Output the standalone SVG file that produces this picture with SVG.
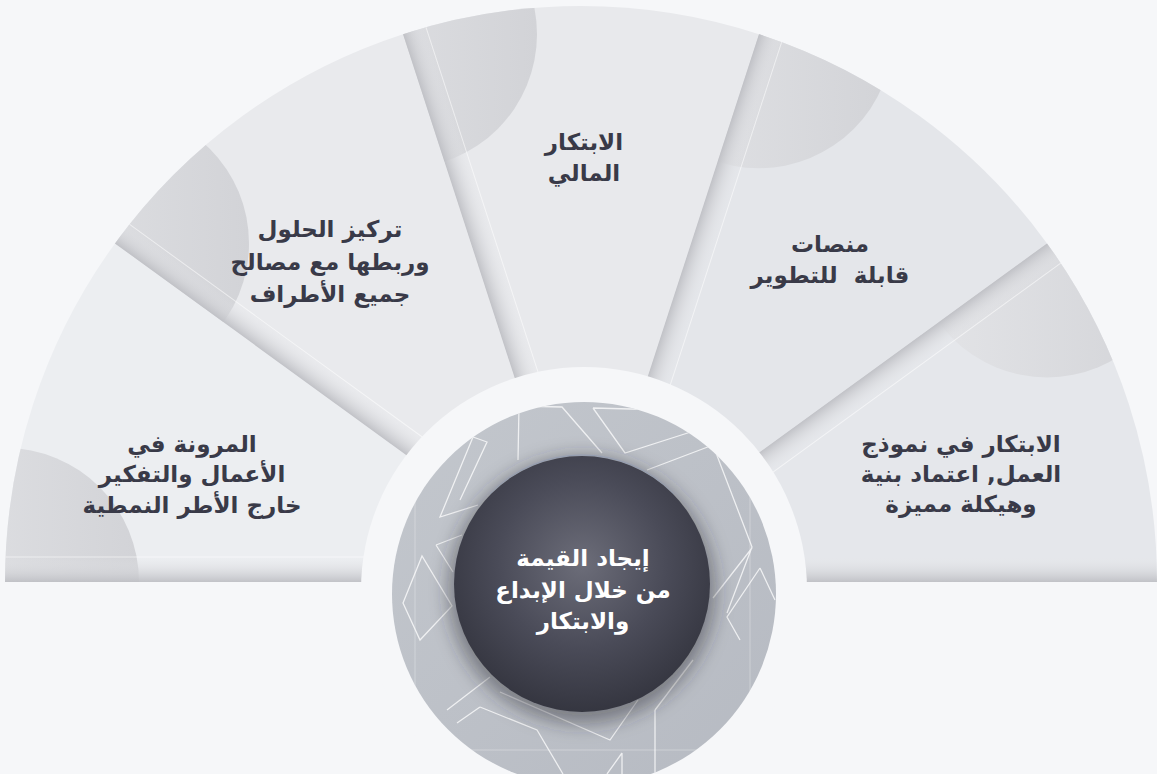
<svg xmlns="http://www.w3.org/2000/svg" width="1157" height="774" viewBox="0 0 1157 774">
<style>
.lbl{font-family:"DejaVu Sans","Noto Sans",sans-serif;font-weight:bold;font-size:23px;fill:#393a48;text-anchor:middle;white-space:pre}
.ctr{font-family:"DejaVu Sans","Noto Sans",sans-serif;font-weight:bold;font-size:23px;fill:#ffffff;text-anchor:middle}
.pat{fill:none;stroke:#ffffff;stroke-width:1.3;stroke-opacity:0.75;stroke-linejoin:miter}
.patf{fill:none;stroke:#ffffff;stroke-width:1;stroke-opacity:0.3}
.edge{stroke:#ffffff;stroke-opacity:0.55;stroke-width:1}
</style>
<defs>
<clipPath id="fanClip"><path d="M5 582 A576 576 0 0 1 1157 582 Z"/></clipPath>
<clipPath id="c1"><path d="M581 582 L5 582 A576 576 0 0 1 115 243.4 Z"/></clipPath>
<clipPath id="c2"><path d="M581 582 L115 243.4 A576 576 0 0 1 403 34.2 Z"/></clipPath>
<clipPath id="c3"><path d="M581 582 L403 34.2 A576 576 0 0 1 759 34.2 Z"/></clipPath>
<clipPath id="c4"><path d="M581 582 L759 34.2 A576 576 0 0 1 1047 243.4 Z"/></clipPath>
<clipPath id="c5"><path d="M581 582 L1047 243.4 A576 576 0 0 1 1157 582 Z"/></clipPath>
<clipPath id="discClip"><circle cx="584" cy="594" r="192"/></clipPath>
<linearGradient id="cornerG" x1="0" y1="0" x2="1" y2="0">
<stop offset="0" stop-color="#e4e5e8"/>
<stop offset="1" stop-color="#d2d3d7"/>
</linearGradient>
<linearGradient id="stripG" x1="0" y1="0" x2="0" y2="1">
<stop offset="0" stop-color="#bfc0c5" stop-opacity="0.95"/>
<stop offset="0.35" stop-color="#d0d1d5" stop-opacity="0.7"/>
<stop offset="1" stop-color="#e6e7ea" stop-opacity="0"/>
</linearGradient>
<linearGradient id="bandG" x1="0" y1="0" x2="0" y2="1">
<stop offset="0" stop-color="#e6e7ea" stop-opacity="0"/>
<stop offset="0.65" stop-color="#d0d1d5" stop-opacity="0.7"/>
<stop offset="1" stop-color="#bfc0c5" stop-opacity="0.95"/>
</linearGradient>
<linearGradient id="discG" x1="0" y1="0" x2="1" y2="1">
<stop offset="0" stop-color="#c3c7cd"/>
<stop offset="1" stop-color="#b6bac2"/>
</linearGradient>
<radialGradient id="darkG" cx="0.5" cy="0.42" r="0.6">
<stop offset="0" stop-color="#6c6d79"/>
<stop offset="0.55" stop-color="#4a4b58"/>
<stop offset="1" stop-color="#33343e"/>
</radialGradient>
<filter id="shadow" x="-30%" y="-30%" width="160%" height="160%">
<feGaussianBlur stdDeviation="9"/>
</filter>
</defs>
<rect width="1157" height="774" fill="#f6f7f9"/>

<g id="fan">
<g id="seg1">
<path d="M581 582 L5 582 A576 576 0 0 1 115 243.4 Z" fill="#eceef1"/>
<circle cx="5" cy="582" r="134" fill="url(#cornerG)" clip-path="url(#c1)"/>
</g>
<g id="seg2">
<path d="M581 582 L115 243.4 A576 576 0 0 1 403 34.2 Z" fill="#e9eaed"/>
<circle cx="115" cy="243.4" r="134" fill="url(#cornerG)" clip-path="url(#c2)"/>
</g>
<g id="seg3">
<path d="M581 582 L403 34.2 A576 576 0 0 1 759 34.2 Z" fill="#e8e9ec"/>
<circle cx="403" cy="34.2" r="134" fill="url(#cornerG)" clip-path="url(#c3)"/>
</g>
<g id="seg4">
<path d="M581 582 L759 34.2 A576 576 0 0 1 1047 243.4 Z" fill="#e4e6ea"/>
<circle cx="759" cy="34.2" r="134" fill="url(#cornerG)" clip-path="url(#c4)"/>
</g>
<g id="seg5">
<path d="M581 582 L1047 243.4 A576 576 0 0 1 1157 582 Z" fill="#e5e7eb"/>
<circle cx="1047" cy="243.4" r="134" fill="url(#cornerG)" clip-path="url(#c5)"/>
</g>
<g id="strips" clip-path="url(#fanClip)">
<g transform="translate(581 582) rotate(-180)"><rect x="200" y="0" width="400" height="25" fill="url(#stripG)"/><line x1="200" y1="25" x2="600" y2="25" class="edge"/></g>
<g transform="translate(581 582) rotate(-144)"><rect x="200" y="0" width="400" height="24" fill="url(#stripG)"/><line x1="200" y1="24" x2="600" y2="24" class="edge"/></g>
<g transform="translate(581 582) rotate(-108)"><rect x="200" y="0" width="400" height="24" fill="url(#stripG)"/><line x1="200" y1="24" x2="600" y2="24" class="edge"/></g>
<g transform="translate(581 582) rotate(-72)"><rect x="200" y="0" width="400" height="24" fill="url(#stripG)"/><line x1="200" y1="24" x2="600" y2="24" class="edge"/></g>
<g transform="translate(581 582) rotate(-36)"><rect x="200" y="0" width="400" height="24" fill="url(#stripG)"/><line x1="200" y1="24" x2="600" y2="24" class="edge"/></g>
<rect x="780" y="557" width="380" height="25" fill="url(#bandG)"/>
</g>
</g>

<g id="hub">
<circle cx="584" cy="590" r="223" fill="#f6f7f9"/>
<circle cx="584" cy="594" r="192" fill="url(#discG)"/>
<g clip-path="url(#discClip)">
<path class="patf" d="M392 750 H776 M415 400 V774 M750 400 V774"/>
<path class="pat" d="M519 406 L562 407 L602 453 M519 406 L518 460 M593 408 L625 453 L697 430 M593 408 L668 410 M647 470 L713 445 L752 547 L727 613 M473 437 L487 442 L460 500 M473 437 L440 517 L478 505 M422 556 L403 603 L420 640 L452 606 Z M436 545 L462 535 M436 545 L453 572 M752 548 L713 598 M760 568 L727 617 L740 640 M760 568 L775 600 M480 707 L537 730 L563 774 M480 707 L457 723 M500 692 L610 740 L638 700 M655 710 L655 774 M655 710 L693 660 M622 753 L622 774 M622 753 L607 774 M490 677 L447 710 M412 470 L440 420 M700 420 L740 470"/>
<circle cx="582" cy="590" r="134" fill="#2a2b35" fill-opacity="0.45" filter="url(#shadow)"/>
</g>
<circle cx="582" cy="584" r="128" fill="url(#darkG)"/>
<path d="M490 494 A128 128 0 0 1 674 494" fill="none" stroke="#8a9ab8" stroke-opacity="0.5" stroke-width="1"/>
</g>

<g id="t1"><text class="lbl" x="192" y="452">المرونة في</text><text class="lbl" x="192" y="482">الأعمال والتفكير</text><text class="lbl" x="192" y="513">خارج الأطر النمطية</text></g>
<g id="t2"><text class="lbl" x="330" y="237">تركيز الحلول</text><text class="lbl" x="330" y="270">وربطها مع مصالح</text><text class="lbl" x="330" y="302">جميع الأطراف</text></g>
<g id="t3"><text class="lbl" x="584" y="150">الابتكار</text><text class="lbl" x="584" y="181">المالي</text></g>
<g id="t4"><text class="lbl" x="830" y="252">منصات</text><text class="lbl" x="830" y="283" xml:space="preserve">قابلة  للتطوير</text></g>
<g id="t5"><text class="lbl" x="961" y="452">الابتكار في نموذج</text><text class="lbl" x="961" y="482">العمل, اعتماد بنية</text><text class="lbl" x="961" y="512">وهيكلة مميزة</text></g>
<g id="tc"><text class="ctr" x="583" y="566">إيجاد القيمة</text><text class="ctr" x="583" y="598">من خلال الإبداع</text><text class="ctr" x="583" y="629">والابتكار</text></g>
</svg>
